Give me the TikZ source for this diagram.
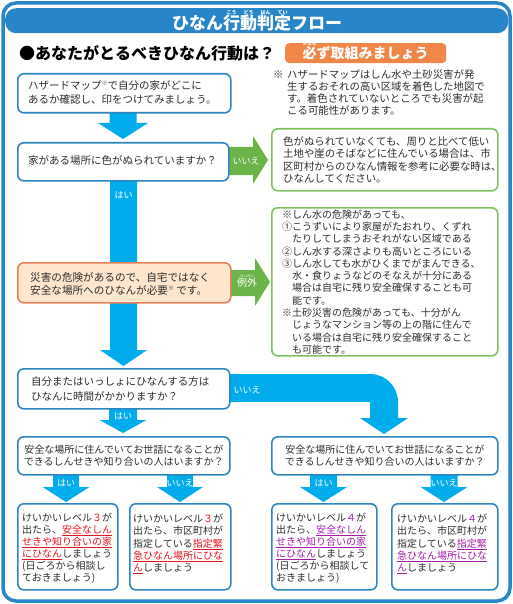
\documentclass[tikz,border=0pt]{standalone}
\usepackage{fontspec}
\setmainfont{Noto Sans CJK JP}
\usetikzlibrary{calc}
\definecolor{frameblue}{RGB}{40,133,199}
\definecolor{boxblue}{RGB}{46,134,193}
\definecolor{arrowcyan}{RGB}{0,172,236}
\definecolor{arrowgreen}{RGB}{108,180,74}
\definecolor{greenborder}{RGB}{128,194,96}
\definecolor{tagorange}{RGB}{240,134,72}
\definecolor{peach}{RGB}{253,229,206}
\definecolor{peachborder}{RGB}{230,130,90}
\definecolor{txt}{RGB}{45,45,45}
\definecolor{lvred}{RGB}{232,20,30}
\definecolor{lvpurple}{RGB}{165,30,170}
\newcommand\rb[3][4.5]{\leavevmode\hbox{\ooalign{#2\cr\hidewidth\smash{\raisebox{0.9em}{\fontsize{#1}{#1}\selectfont #3}}\hidewidth\cr}}}
\newcommand\smstar{\raisebox{0.35em}{\fontsize{6}{6}\selectfont ※}}
\newcommand\uln[1]{\leavevmode\setbox0\hbox{#1}\rlap{\rule[-2.4pt]{\wd0}{0.9pt}}\box0}
\newcommand\cyanarrow[6]{\fill[arrowcyan] ({#1-#5},#2) -- ({#1+#5},#2) -- ({#1+#5},#3) -- ({#1+#6},#3) -- (#1,#4) -- ({#1-#6},#3) -- ({#1-#5},#3) -- cycle;}
\begin{document}
\begin{tikzpicture}[x=1pt,y=-1pt,
  box/.style={draw=boxblue, line width=1.6pt, rounded corners=6pt, fill=white, inner sep=0pt, anchor=north west},
  gbox/.style={box, draw=greenborder},
  obox/.style={box, draw=peachborder, fill=peach},
  txtnode/.style={anchor=west, inner sep=0pt, align=left, text=txt},
  lab/.style={text=white, inner sep=0pt, font=\fontsize{9}{9}\selectfont}]
\useasboundingbox (0,0) rectangle (513,604);
% outer frame and title
\draw[frameblue, line width=3.5pt, rounded corners=13pt] (3,3) rectangle (510,601);
\node[fill=frameblue, rounded corners=11pt, minimum width=503pt, minimum height=25pt, inner sep=0pt, anchor=north west] (banner) at (5,8) {};
\node[text=white, inner sep=0pt, font=\fontsize{17}{17}\selectfont\bfseries] (title) at (257,23)
  {ひなん\rb[5]{行}{こう}\rb[5]{動}{どう}\rb[5]{判}{はん}\rb[5]{定}{てい}フロー};
\node[anchor=west, inner sep=0pt, font=\fontsize{16}{16}\selectfont\bfseries] (hdr) at (19,53) {●あなたがとるべきひなん行動は？};
\node[fill=tagorange, rounded corners=4pt, minimum width=161pt, minimum height=20pt, inner sep=0pt, anchor=north west] (tag) at (285,43) {};
\node[text=white, inner sep=0pt, font=\fontsize{14}{14}\selectfont\bfseries] (tagtext) at (tag.center) {\rb[4.5]{必}{かなら}ず取組みましょう};
% note
\node[txtnode, font=\fontsize{10.4}{12}\selectfont] (nstar) at (273,75) {※};
\node[txtnode, font=\fontsize{10.4}{12}\selectfont] (note) at (287,93)
  {ハザードマップはしん水や土砂災害が発\\
   生するおそれの高い区域を着色した地図で\\
   す。着色されていないところでも災害が起\\
   こる可能性があります。};
% arrows
\cyanarrow{123.5}{180}{350}{366}{13.5}{23.5}
\cyanarrow{123}{111}{123}{139}{13.5}{25}
\cyanarrow{123}{407}{420}{433}{14}{23.5}
\cyanarrow{66}{473}{487}{502}{13}{23.5}
\cyanarrow{180}{473}{487}{502}{13}{23}
\cyanarrow{323.5}{473}{487}{502}{13.5}{23.5}
\cyanarrow{444}{473}{487}{502}{13.5}{23.5}
\fill[arrowcyan] (226,374) -- (370,374) .. controls (385.5,374) and (398,386.5) .. (398,402)
  -- (398,418) -- (408,418) -- (384,434) -- (360,418) -- (370,418) -- (370,402) -- (226,402) -- cycle;
\fill[arrowgreen] (226,147) -- (253,147) -- (253,136) -- (268,160) -- (253,184) -- (253,175) -- (226,175) -- cycle;
\fill[arrowgreen] (228,270) -- (255,270) -- (255,258) -- (270,282) -- (255,306) -- (255,296) -- (228,296) -- cycle;
% boxes
\node[box, minimum width=213pt, minimum height=39pt] (b1) at (17,73) {};
\node[box, minimum width=211pt, minimum height=38pt] (b2) at (17,142) {};
\node[gbox, minimum width=226pt, minimum height=62pt] (g1) at (271,128) {};
\node[obox, minimum width=213pt, minimum height=40pt] (o1) at (17,262) {};
\node[gbox, minimum width=226pt, minimum height=148pt] (g2) at (271,207) {};
\node[box, minimum width=212pt, minimum height=40pt] (b3) at (17,368) {};
\node[box, minimum width=212pt, minimum height=38pt] (b4l) at (17,436) {};
\node[box, minimum width=226pt, minimum height=38pt] (b4r) at (271,436) {};
\node[box, minimum width=100pt, minimum height=86pt] (f1) at (17,503) {};
\node[box, minimum width=101pt, minimum height=86pt] (f2) at (129,503) {};
\node[box, minimum width=105pt, minimum height=86pt] (f3) at (271,503) {};
\node[box, minimum width=106pt, minimum height=86pt] (f4) at (391,503) {};
% labels
\node[lab] (l1) at (123.5,195) {はい};
\node[lab] (l2) at (246,161) {いいえ};
\node[lab, font=\fontsize{10}{10}\selectfont] (l3) at (247,282) {\rb[3.5]{例外}{れいがい}};
\node[lab] (l4) at (247,390) {いいえ};
\node[lab] (l5) at (123,416) {はい};
\node[lab] (l6) at (66,483) {はい};
\node[lab] (l7) at (180,483) {いいえ};
\node[lab] (l8) at (323.5,483) {はい};
\node[lab] (l9) at (444,483) {いいえ};
% texts
\node[txtnode, font=\fontsize{10.5}{14}\selectfont] (t1) at (28,92)
  {ハザードマップ\smstar で自分の家がどこに\\あるか確認し、印をつけてみましょう。};
\node[txtnode, font=\fontsize{10.5}{14}\selectfont] (t2) at (28,160) {家がある場所に色がぬられていますか？};
\node[txtnode, font=\fontsize{10.4}{12.2}\selectfont] (tg1) at (283,160)
  {色がぬられていなくても、周りと比べて低い\\
   土地や崖のそばなどに住んでいる場合は、市\\
   区町村からのひなん情報を参考に必要な時は、\\
   ひなんしてください。};
\node[txtnode, font=\fontsize{10.6}{13}\selectfont] (to1) at (30,284)
  {災害の危険があるので、自宅ではなく\\安全な場所へのひなんが必要\smstar\ です。};
\node[txtnode, font=\fontsize{10}{12.3}\selectfont] (tg2) at (282,282)
  {※しん水の危険があっても、\\
   ①こうずいにより家屋がたおれり、くずれ\\
   \hspace*{10pt}たりしてしまうおそれがない区域である\\
   ②しん水する深さよりも高いところにいる\\
   ③しん水しても水がひくまでがまんできる、\\
   \hspace*{10pt}水・食りょうなどのそなえが十分にある\\
   \hspace*{10pt}場合は自宅に残り安全確保することも可\\
   \hspace*{10pt}能です。\\
   ※土砂災害の危険があっても、十分がん\\
   \hspace*{10pt}じょうなマンション等の上の階に住んで\\
   \hspace*{10pt}いる場合は自宅に残り安全確保すること\\
   \hspace*{10pt}も可能です。};
\node[txtnode, font=\fontsize{10.5}{15}\selectfont] (t3) at (31,389)
  {自分またはいっしょにひなんする方は\\ひなんに時間がかかりますか？};
\node[txtnode, align=center, anchor=center, font=\fontsize{10}{12}\selectfont] (t4l) at (b4l.center)
  {安全な場所に住んでいてお世話になることが\\できるしんせきや知り合いの人はいますか？};
\node[txtnode, align=center, anchor=center, font=\fontsize{10}{12}\selectfont] (t4r) at (b4r.center)
  {安全な場所に住んでいてお世話になることが\\できるしんせきや知り合いの人はいますか？};
\node[txtnode, font=\fontsize{10}{12}\selectfont] (tf1) at (22,548)
  {けいかいレベル\textcolor{lvred}{３}が\\
   出たら、\textcolor{lvred}{\uln{安全なしん}}\\
   \textcolor{lvred}{\uln{せきや知り合いの家}}\\
   \textcolor{lvred}{\uln{にひなん}}しましょう\\
   (日ごろから相談し\\
   ておきましょう)};
\node[txtnode, font=\fontsize{10}{12.4}\selectfont] (tf2) at (133,544)
  {けいかいレベル\textcolor{lvred}{３}が\\
   出たら、市区町村が\\
   指定している\textcolor{lvred}{\uln{指定緊}}\\
   \textcolor{lvred}{\uln{急ひなん場所にひな}}\\
   \textcolor{lvred}{\uln{ん}}しましょう};
\node[txtnode, font=\fontsize{10}{12}\selectfont] (tf3) at (276,548)
  {けいかいレベル\textcolor{lvpurple}{４}が\\
   出たら、\textcolor{lvpurple}{\uln{安全なしん}}\\
   \textcolor{lvpurple}{\uln{せきや知り合いの家}}\\
   \textcolor{lvpurple}{\uln{にひなん}}しましょう\\
   (日ごろから相談して\\
   おきましょう)};
\node[txtnode, font=\fontsize{10}{12.4}\selectfont] (tf4) at (397,544)
  {けいかいレベル\textcolor{lvpurple}{４}が\\
   出たら、市区町村が\\
   指定している\textcolor{lvpurple}{\uln{指定緊}}\\
   \textcolor{lvpurple}{\uln{急ひなん場所にひな}}\\
   \textcolor{lvpurple}{\uln{ん}}しましょう};
\end{tikzpicture}
\end{document}
